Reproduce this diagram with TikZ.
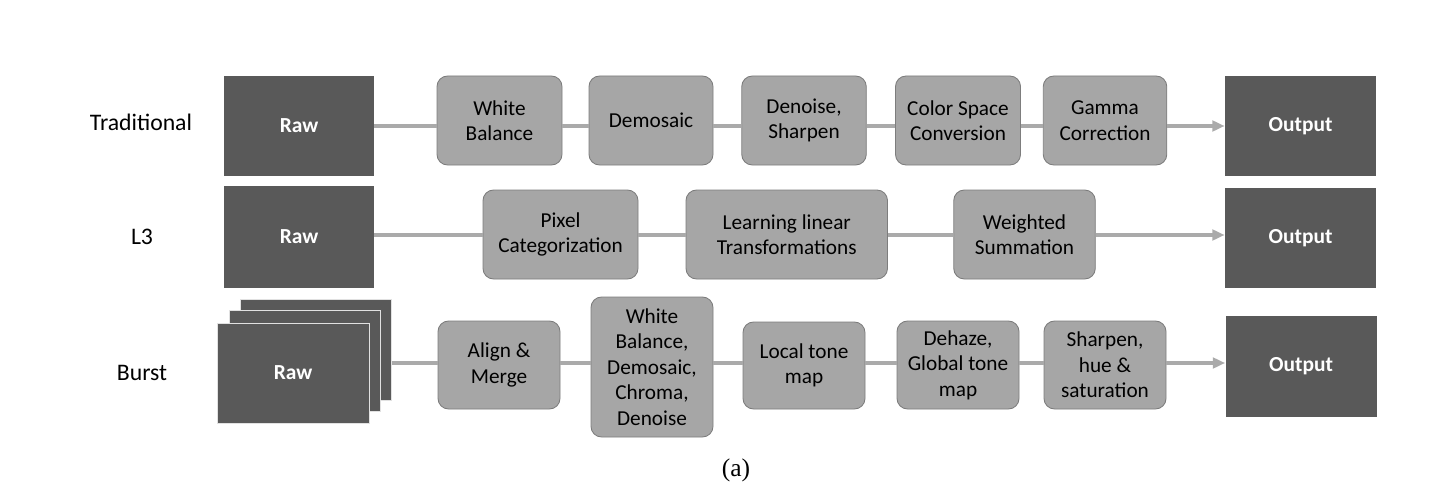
\documentclass[tikz,border=0pt]{standalone}
\usepackage{fontspec}
\setmainfont{Carlito}
\newfontfamily\captionfont{Liberation Serif}
\usepackage{tikz}
\usetikzlibrary{arrows.meta}
\usetikzlibrary{positioning}
\definecolor{darkbox}{RGB}{89,89,89}
\definecolor{greybox}{RGB}{166,166,166}
\definecolor{greyedge}{RGB}{125,125,125}
\definecolor{wire}{RGB}{170,170,170}
\definecolor{stackedge}{RGB}{225,225,225}

\begin{document}
\begin{tikzpicture}[io/.style={fill=darkbox, rectangle, text=white, font=\fontsize{12.2pt}{14.5pt}\selectfont\bfseries, minimum width=3cm, minimum height=2cm, inner sep=0pt}, stage/.style={draw=greyedge, fill=greybox, rounded corners=6pt, line width=0.5pt, font=\fontsize{12.1pt}{14.5pt}\selectfont, align=center, inner sep=0pt, minimum height=1.78cm}, rowlabel/.style={font=\fontsize{13.5pt}{16pt}\selectfont}, link/.style={draw=wire, line width=2.2pt}, linkarrow/.style={link, -{Triangle[length=7pt, width=6pt]}}]
		\useasboundingbox (0, 0) rectangle (28.840, -9.960);
		% Traditional
		\node[rowlabel](label0) at (2.820, -2.440) {Traditional};
		\node[io](node0) at (5.980, -2.520) {Raw};
		\node[stage, minimum width=2.50cm](node1) at (9.990, -2.410) {White\\Balance};
		\node[stage, minimum width=2.48cm](node2) at (13.020, -2.410) {Demosaic};
		\node[stage, minimum width=2.49cm](node3) at (16.080, -2.410) {Denoise,\\Sharpen};
		\node[stage, minimum width=2.50cm](node4) at (19.160, -2.410) {Color Space\\Conversion};
		\node[stage, minimum width=2.47cm](node5) at (22.100, -2.410) {Gamma\\Correction};
		\node[io, minimum width=3.02cm](node6) at (26.010, -2.520) {Output};
		\coordinate (line0) at (0, -2.520);
		
		\draw[link] (node0.east |- line0) -- (node1.west |- line0);
		\draw[link] (node1.east |- line0) -- (node2.west |- line0);
		\draw[link] (node2.east |- line0) -- (node3.west |- line0);
		\draw[link] (node3.east |- line0) -- (node4.west |- line0);
		\draw[link] (node4.east |- line0) -- (node5.west |- line0);
		\draw[linkarrow] (node5.east |- line0) -- (node6.west |- line0);
		
		% L3
		\node[rowlabel](label1) at (2.840, -4.740) {L3};
		\node[io, minimum height=2.04cm](node7) at (5.980, -4.740) {Raw};
		\node[stage, minimum width=3.10cm](node8) at (11.210, -4.690) {Pixel\\Categorization};
		\node[stage, minimum width=4.03cm](node9) at (15.735, -4.690) {Learning linear\\Transformations};
		\node[stage, minimum width=2.83cm](node10) at (20.490, -4.690) {Weighted\\Summation};
		\node[io, minimum width=3.02cm](node11) at (26.010, -4.760) {Output};
		\coordinate (line1) at (0, -4.700);
		
		\draw[link] (node7.east |- line1) -- (node8.west |- line1);
		\draw[link] (node8.east |- line1) -- (node9.west |- line1);
		\draw[link] (node9.east |- line1) -- (node10.west |- line1);
		\draw[linkarrow] (node10.east |- line1) -- (node11.west |- line1);
		
		% Burst
		\node[rowlabel](label2) at (2.840, -7.460) {Burst};
		\node[io, draw=stackedge, line width=0.4pt, minimum width=3.02cm, minimum height=2.02cm](node12) at (6.320, -6.990) {};
		\node[io, draw=stackedge, line width=0.4pt, minimum width=3.02cm, minimum height=2.02cm](node13) at (6.090, -7.210) {};
		\node[io, draw=stackedge, line width=0.4pt, minimum width=3.04cm](node14) at (5.860, -7.460) {Raw};
		\node[stage, minimum width=2.44cm, minimum height=1.76cm](node15) at (9.980, -7.300) {Align \&\\Merge};
		\node[stage, minimum width=2.44cm, minimum height=2.80cm](node16) at (13.040, -7.340) {White\\Balance,\\Demosaic,\\Chroma,\\Denoise};
		\node[stage, minimum width=2.44cm, minimum height=1.74cm](node17) at (16.080, -7.310) {Local tone\\map};
		\node[stage, minimum width=2.44cm, minimum height=1.76cm](node18) at (19.160, -7.300) {Dehaze,\\Global tone\\map};
		\node[stage, minimum width=2.44cm, minimum height=1.76cm](node19) at (22.100, -7.300) {Sharpen,\\hue \&\\saturation};
		\node[io, minimum width=3.02cm, minimum height=2.02cm](node20) at (26.020, -7.330) {Output};
		\coordinate (line2) at (0, -7.260);
		
		\draw[link] (node12.east |- line2) -- (node15.west |- line2);
		\draw[link] (node15.east |- line2) -- (node16.west |- line2);
		\draw[link] (node16.east |- line2) -- (node17.west |- line2);
		\draw[link] (node17.east |- line2) -- (node18.west |- line2);
		\draw[link] (node18.east |- line2) -- (node19.west |- line2);
		\draw[linkarrow] (node19.east |- line2) -- (node20.west |- line2);
		
		\node[font=\captionfont\fontsize{14.5pt}{17pt}\selectfont](caption0) at (14.720, -9.400) {(a)};
		\end{tikzpicture}
\end{document}
